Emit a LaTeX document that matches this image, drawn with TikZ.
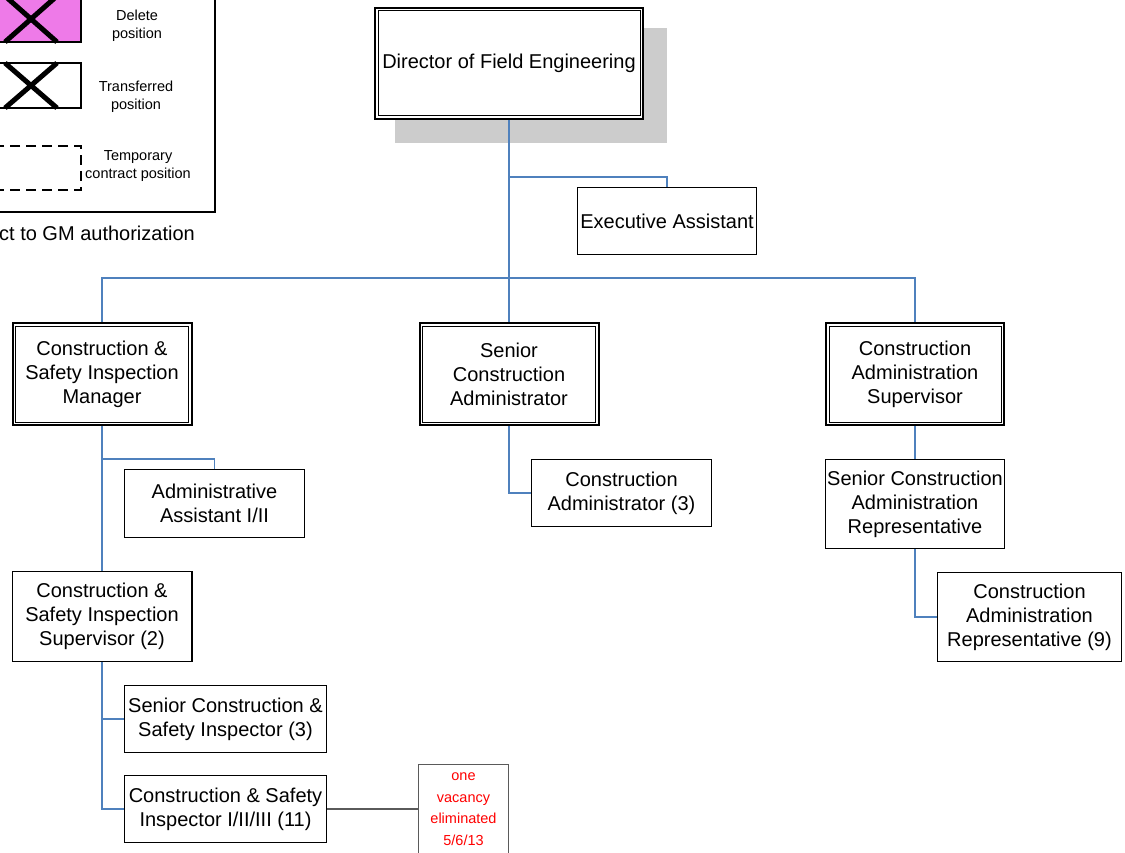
\documentclass[tikz,border=0pt]{standalone}
\usepackage{fontspec}
\setmainfont{Liberation Sans}
\definecolor{connblue}{RGB}{79,129,189}
\definecolor{delpink}{RGB}{238,122,232}
\definecolor{shadowgray}{RGB}{204,204,204}
\definecolor{notegray}{RGB}{90,90,90}
\begin{document}
\begin{tikzpicture}[x=1pt,y=-1pt,
  box/.style={draw, line width=1.4pt, fill=white, inner sep=0pt, align=center, font=\fontsize{20}{24}\selectfont},
  dbox/.style={box, line width=2pt},
  conn/.style={draw=connblue, line width=1.6pt},
  legtxt/.style={align=center, font=\fontsize{14.5}{18}\selectfont, inner sep=0pt}]
\useasboundingbox (0,0) rectangle (1125,853);
\clip (0,0) rectangle (1125,853);

% legend
\draw[line width=1.5pt] (-10,-10) rectangle (215,212);
\draw[line width=1.2pt, fill=delpink] (-10,-5) rectangle (81,42);
\draw[line width=5pt] (5,-4) -- (57,42) (57,-4) -- (5,42);
\draw[line width=1.2pt] (-10,63) rectangle (81,108);
\draw[line width=5pt] (5,63) -- (57,108) (57,63) -- (5,108);
\draw[line width=1.3pt, dash pattern=on 10pt off 6pt] (-10,146) rectangle (81,190);
\node[legtxt] (l1) at (137,26) {Delete\\position};
\node[legtxt] (l2) at (136,97) {Transferred\\position};
\node[legtxt] (l3) at (138,166) {Temporary\\contract position};
\node[anchor=east, inner sep=0pt, font=\fontsize{20}{24}\selectfont] (gm) at (195,233) {ct to GM authorization};

% shadow
\fill[shadowgray] (395,28) rectangle (667,143);

% nodes
\node[dbox, minimum width=268pt, minimum height=111pt] (dir) at (509,63.5) {Director of Field Engineering};
\node[box, minimum width=178.6pt, minimum height=66.6pt] (exec) at (667,221) {Executive Assistant};
\node[dbox, minimum width=179pt, minimum height=102pt] (mgr) at (102,374) {Construction \&\\Safety Inspection\\Manager};
\node[dbox, minimum width=179pt, minimum height=102pt] (sca) at (509,374) {Senior\\Construction\\Administrator};
\node[dbox, minimum width=178pt, minimum height=102pt] (cas) at (915,374) {Construction\\Administration\\Supervisor};
\node[box, minimum width=179.6pt, minimum height=67.6pt] (aa) at (214.5,503.5) {Administrative\\Assistant I/II};
\node[box, minimum width=179.6pt, minimum height=89.6pt] (sup) at (102,616.5) {Construction \&\\Safety Inspection\\Supervisor (2)};
\node[box, minimum width=201.6pt, minimum height=66.6pt] (sci) at (225.5,719) {Senior Construction \&\\Safety Inspector (3)};
\node[box, minimum width=201.6pt, minimum height=66.6pt] (ci) at (225.5,809) {Construction \& Safety\\Inspector I/II/III (11)};
\node[draw=notegray, line width=1pt, fill=white, inner sep=0pt, align=center, text=red,
      font=\fontsize{14.5}{21.5}\selectfont, minimum width=90pt, minimum height=90pt] (note) at (463.5,809) {one\\vacancy\\eliminated\\5/6/13};
\node[box, minimum width=179.6pt, minimum height=66.6pt] (ca3) at (621.5,493) {Construction\\Administrator (3)};
\node[box, minimum width=178.6pt, minimum height=88.6pt] (scar) at (915,504) {Senior Construction\\Administration\\Representative};
\node[box, minimum width=183.6pt, minimum height=88.6pt] (car) at (1029.5,617) {Construction\\Administration\\Representative (9)};

% inner lines of double boxes
\foreach \n in {dir,mgr,sca,cas}
  \draw[line width=1pt] ([shift={(4pt,-4pt)}]\n.north west) rectangle ([shift={(-4pt,4pt)}]\n.south east);

% connectors
\coordinate (bus) at (509,278);
\draw[conn] (dir.south) -- (sca.north);
\draw[conn] (mgr.north) |- (bus) -| (cas.north);
\draw[conn] (exec.north) |- (dir.south |- 0,177);
\draw[conn] (mgr.south) -- (sup.north);
\draw[conn] (aa.north) |- (mgr.south |- 0,459);
\draw[conn] (sup.south) |- (sci.west);
\draw[conn] (sup.south) |- (ci.west);
\draw[conn] (sca.south) |- (ca3.west);
\draw[conn] (cas.south) -- (scar.north);
\draw[conn] (scar.south) |- (car.west);
\draw[draw=notegray, line width=1.2pt] (ci.east) -- (note.west);
\end{tikzpicture}
\end{document}
